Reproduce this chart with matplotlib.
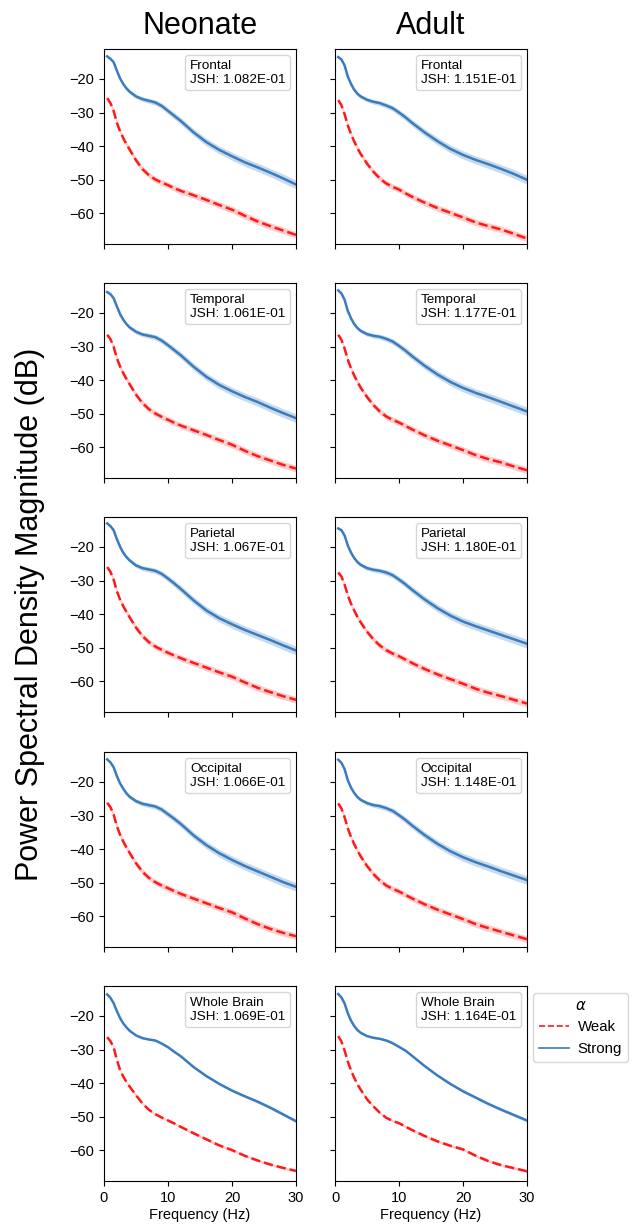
import numpy as np
import matplotlib
matplotlib.use("Agg")
import matplotlib.pyplot as plt
from matplotlib.lines import Line2D

plt.rcParams['font.family'] = ['Liberation Sans', 'DejaVu Sans']

# ---------------- data ----------------
FREQ = [0.5, 1, 1.5, 2, 2.5, 3, 3.5, 4, 5, 6, 7, 8, 9, 10, 11, 12,
        14, 16, 18, 20, 22, 24, 26, 28, 30]

GROUPS = ["Neonate", "Adult"]
REGIONS = ["Frontal", "Temporal", "Parietal", "Occipital", "Whole Brain"]

JSH_NEONATE = ["1.082E-01", "1.061E-01", "1.067E-01", "1.066E-01", "1.069E-01"]
JSH_ADULT = ["1.151E-01", "1.177E-01", "1.180E-01", "1.148E-01", "1.164E-01"]

# Neonate, strong alpha (blue)
NEO_FRONTAL_STRONG = [-13.3, -14.0, -15.0, -17.5, -19.8, -21.5, -22.8, -23.8, -25.2, -26.0, -26.5, -27.0, -28.0, -29.5, -31.0, -32.5, -35.9, -38.8, -41.1, -43.0, -44.8, -46.3, -47.9, -49.6, -51.4]
NEO_TEMPORAL_STRONG = [-13.8, -14.4, -15.6, -18.0, -20.3, -22.0, -23.3, -24.3, -25.6, -26.4, -26.8, -27.2, -28.2, -29.6, -31.1, -32.6, -36.0, -39.0, -41.4, -43.3, -45.0, -46.5, -48.2, -49.8, -51.3]
NEO_PARIETAL_STRONG = [-13.0, -13.8, -15.0, -17.6, -19.9, -21.7, -23.0, -24.0, -25.5, -26.3, -26.7, -27.1, -28.0, -29.4, -30.9, -32.5, -35.9, -38.9, -41.2, -43.0, -44.7, -46.2, -47.7, -49.3, -50.8]
NEO_OCCIPITAL_STRONG = [-13.3, -14.2, -15.6, -18.2, -20.4, -22.0, -23.4, -24.4, -25.7, -26.5, -26.9, -27.3, -28.2, -29.6, -31.0, -32.5, -35.9, -38.8, -41.2, -43.2, -45.0, -46.6, -48.2, -49.8, -51.2]
NEO_WHOLE_STRONG = [-13.6, -14.6, -16.2, -18.5, -20.6, -22.2, -23.4, -24.4, -25.8, -26.6, -27.0, -27.3, -28.2, -29.3, -30.7, -32.0, -35.2, -37.9, -40.2, -42.2, -43.9, -45.5, -47.3, -49.3, -51.3]

# Neonate, weak alpha (red)
NEO_FRONTAL_WEAK = [-25.7, -27.2, -29.5, -33.0, -35.5, -37.6, -39.4, -41.0, -44.2, -46.8, -48.6, -49.9, -50.8, -51.6, -52.5, -53.3, -54.6, -56.0, -57.5, -58.9, -60.7, -62.4, -63.8, -65.1, -66.4]
NEO_TEMPORAL_WEAK = [-26.5, -27.8, -30.0, -33.4, -35.9, -37.9, -39.6, -41.2, -44.3, -46.8, -48.6, -49.9, -50.9, -51.8, -52.7, -53.5, -54.9, -56.3, -57.8, -59.2, -61.0, -62.6, -63.9, -65.2, -66.3]
NEO_PARIETAL_WEAK = [-26.0, -27.4, -29.7, -33.1, -35.6, -37.6, -39.3, -40.9, -44.0, -46.5, -48.3, -49.6, -50.6, -51.5, -52.3, -53.1, -54.5, -55.9, -57.3, -58.6, -60.3, -61.9, -63.2, -64.4, -65.5]
NEO_OCCIPITAL_WEAK = [-26.2, -27.5, -29.7, -33.1, -35.7, -37.7, -39.5, -41.1, -44.2, -46.7, -48.5, -49.8, -50.8, -51.6, -52.5, -53.3, -54.7, -56.1, -57.5, -58.8, -60.6, -62.3, -63.7, -64.9, -65.9]
NEO_WHOLE_WEAK = [-26.3, -27.5, -29.3, -33.0, -36.0, -38.0, -39.6, -41.0, -43.6, -46.0, -47.9, -49.2, -50.2, -51.1, -52.0, -53.0, -54.9, -56.7, -58.5, -59.9, -61.6, -63.0, -64.2, -65.2, -66.1]

# Adult, strong alpha (blue)
ADU_FRONTAL_STRONG = [-13.5, -14.2, -16.0, -19.3, -21.5, -23.2, -24.4, -25.2, -26.2, -26.8, -27.2, -27.9, -28.7, -30.0, -31.4, -33.0, -35.9, -38.5, -40.8, -42.6, -44.1, -45.4, -46.8, -48.3, -50.0]
ADU_TEMPORAL_STRONG = [-13.3, -14.2, -16.1, -19.4, -21.6, -23.3, -24.5, -25.3, -26.3, -26.8, -27.1, -27.7, -28.5, -29.8, -31.2, -32.8, -35.7, -38.3, -40.5, -42.3, -43.8, -45.1, -46.5, -47.9, -49.3]
ADU_PARIETAL_STRONG = [-14.5, -15.0, -16.6, -19.6, -21.7, -23.3, -24.5, -25.3, -26.3, -26.8, -27.1, -27.6, -28.4, -29.7, -31.1, -32.7, -35.6, -38.2, -40.4, -42.2, -43.6, -44.9, -46.2, -47.5, -48.8]
ADU_OCCIPITAL_STRONG = [-13.4, -14.3, -16.2, -19.5, -21.7, -23.3, -24.5, -25.3, -26.3, -26.9, -27.2, -27.8, -28.6, -29.9, -31.3, -32.9, -35.8, -38.4, -40.6, -42.4, -43.9, -45.2, -46.6, -47.9, -49.2]
ADU_WHOLE_STRONG = [-13.5, -14.5, -16.3, -19.2, -21.4, -23.0, -24.2, -25.0, -26.0, -26.5, -26.8, -27.3, -28.1, -29.2, -30.3, -31.8, -34.9, -37.7, -40.2, -42.4, -44.3, -46.2, -47.9, -49.5, -51.1]

# Adult, weak alpha (red)
ADU_FRONTAL_WEAK = [-26.3, -27.8, -30.5, -33.8, -36.4, -38.6, -40.6, -42.3, -45.2, -47.6, -49.6, -51.1, -52.1, -52.9, -54.0, -55.0, -56.8, -58.4, -59.8, -61.2, -62.7, -63.8, -64.8, -66.1, -67.5]
ADU_TEMPORAL_WEAK = [-26.5, -28.0, -30.6, -33.9, -36.5, -38.6, -40.5, -42.2, -45.0, -47.4, -49.3, -50.8, -51.8, -52.6, -53.6, -54.6, -56.4, -58.0, -59.4, -60.8, -62.3, -63.5, -64.5, -65.7, -66.8]
ADU_PARIETAL_WEAK = [-27.6, -28.8, -31.2, -34.4, -36.9, -38.9, -40.8, -42.4, -45.2, -47.5, -49.3, -50.7, -51.7, -52.5, -53.5, -54.5, -56.3, -57.9, -59.3, -60.7, -62.2, -63.4, -64.4, -65.5, -66.6]
ADU_OCCIPITAL_WEAK = [-26.4, -27.9, -30.5, -33.8, -36.4, -38.5, -40.4, -42.1, -45.0, -47.4, -49.3, -50.8, -51.8, -52.6, -53.6, -54.6, -56.4, -58.0, -59.4, -60.8, -62.3, -63.5, -64.6, -65.7, -66.8]
ADU_WHOLE_WEAK = [-26.0, -27.6, -30.3, -33.6, -36.2, -38.4, -40.3, -41.9, -44.8, -46.9, -48.8, -50.3, -51.2, -51.9, -52.9, -53.9, -55.7, -57.3, -58.6, -59.7, -61.6, -63.2, -64.4, -65.3, -66.2]

# half-width of the shaded bands (dB)
BAND_REGION_STRONG = [0.4, 0.4, 0.4, 0.45, 0.5, 0.5, 0.55, 0.6, 0.65, 0.7, 0.75, 0.8, 0.85, 0.9, 0.95, 1.0, 1.05, 1.1, 1.15, 1.2, 1.2, 1.25, 1.25, 1.3, 1.3]
BAND_REGION_WEAK = [0.6, 0.6, 0.65, 0.7, 0.7, 0.75, 0.75, 0.8, 0.8, 0.85, 0.85, 0.85, 0.9, 0.9, 0.9, 0.9, 0.95, 0.95, 0.95, 1.0, 1.0, 1.0, 1.0, 1.0, 1.0]
BAND_WHOLE_STRONG = [0.2, 0.2, 0.2, 0.2, 0.2, 0.2, 0.2, 0.25, 0.25, 0.25, 0.25, 0.3, 0.3, 0.3, 0.3, 0.3, 0.35, 0.35, 0.4, 0.4, 0.4, 0.45, 0.45, 0.45, 0.45]
BAND_WHOLE_WEAK = [0.3, 0.3, 0.3, 0.3, 0.3, 0.3, 0.3, 0.3, 0.35, 0.35, 0.35, 0.35, 0.35, 0.35, 0.35, 0.35, 0.4, 0.4, 0.4, 0.4, 0.4, 0.4, 0.4, 0.4, 0.4]

STRONG = {
    "Neonate": [NEO_FRONTAL_STRONG, NEO_TEMPORAL_STRONG, NEO_PARIETAL_STRONG, NEO_OCCIPITAL_STRONG, NEO_WHOLE_STRONG],
    "Adult": [ADU_FRONTAL_STRONG, ADU_TEMPORAL_STRONG, ADU_PARIETAL_STRONG, ADU_OCCIPITAL_STRONG, ADU_WHOLE_STRONG],
}
WEAK = {
    "Neonate": [NEO_FRONTAL_WEAK, NEO_TEMPORAL_WEAK, NEO_PARIETAL_WEAK, NEO_OCCIPITAL_WEAK, NEO_WHOLE_WEAK],
    "Adult": [ADU_FRONTAL_WEAK, ADU_TEMPORAL_WEAK, ADU_PARIETAL_WEAK, ADU_OCCIPITAL_WEAK, ADU_WHOLE_WEAK],
}
JSH = {"Neonate": JSH_NEONATE, "Adult": JSH_ADULT}

BLUE = "#3a7cbe"
RED = "#ff1a1a"

# ---------------- figure ----------------
W, H = 632, 1226
fig = plt.figure(figsize=(W / 100, H / 100), dpi=100)

col_left = [104, 335]
ax_w = 192
row_top = [49, 283, 517, 752, 986]
ax_h = 195

f = np.array(FREQ)
axes = {}
for ci, grp in enumerate(GROUPS):
    for ri, reg in enumerate(REGIONS):
        ax = fig.add_axes([col_left[ci] / W, 1 - (row_top[ri] + ax_h) / H, ax_w / W, ax_h / H])
        axes[(ri, ci)] = ax
        s = np.array(STRONG[grp][ri])
        w = np.array(WEAK[grp][ri])
        whole = reg == "Whole Brain"
        bs = np.array(BAND_WHOLE_STRONG if whole else BAND_REGION_STRONG)
        bw = np.array(BAND_WHOLE_WEAK if whole else BAND_REGION_WEAK)
        ax.fill_between(f, w - bw, w + bw, color=RED, alpha=0.22, lw=0)
        ax.fill_between(f, s - bs, s + bs, color=BLUE, alpha=0.28, lw=0)
        ax.plot(f, w, color=RED, ls="--", lw=1.8, label="Weak")
        ax.plot(f, s, color=BLUE, lw=1.8, label="Strong")
        ax.set_xlim(0, 30)
        ax.set_ylim(-69.1, -11.1)
        ax.set_xticks([0, 10, 20, 30])
        ax.set_yticks([-20, -30, -40, -50, -60])
        ax.tick_params(labelsize=10.5, length=3.5, width=0.8)
        for sp in ax.spines.values():
            sp.set_linewidth(0.8)
        if ci == 1:
            ax.set_yticklabels([])
        if ri < 4:
            ax.set_xticklabels([])
        else:
            ax.set_xlabel("Frequency (Hz)", fontsize=10.5, labelpad=2)
        if ri == 0:
            ax.set_title(grp, fontsize=22, pad=11)
        leg = ax.legend([Line2D([], [], alpha=0)], [f"{reg}\nJSH: {JSH[grp][ri]}"],
                        loc="upper right", handlelength=0, handletextpad=0,
                        fontsize=9.7, borderpad=0.35, borderaxespad=0.45)

# group legend
ax = axes[(4, 1)]
handles = [Line2D([], [], color=RED, ls="--", lw=1.2),
           Line2D([], [], color=BLUE, lw=1.2)]
first_leg = ax.get_legend()
lg = ax.legend(handles, ["Weak", "Strong"], title=r"$\alpha$", loc="upper left",
               bbox_to_anchor=(1.03, 0.965), borderaxespad=0, fontsize=10.8,
               title_fontsize=10.8, handlelength=2.0, handletextpad=0.6)
ax.add_artist(first_leg)

fig.text(0.047, 1 - 614.5 / H, "Power Spectral Density Magnitude (dB)",
         rotation=90, fontsize=22, ha="center", va="center")

fig.savefig("out.png", dpi=100)
